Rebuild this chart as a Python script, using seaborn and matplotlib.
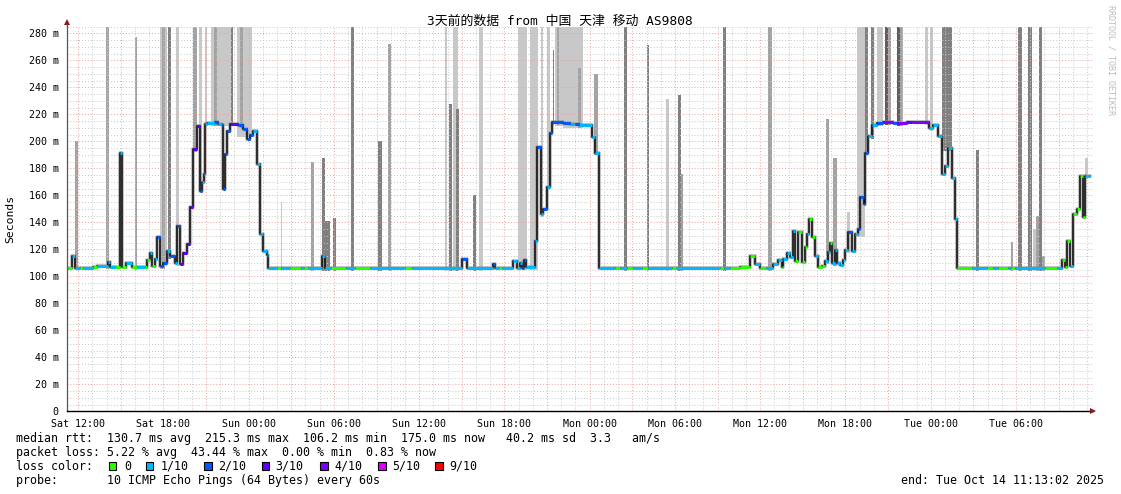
import numpy as np
import matplotlib
matplotlib.use("Agg")
import matplotlib.pyplot as plt
from matplotlib.patches import Rectangle
import seaborn as sns
import pandas as pd

# ---------------- data (hours since Sat 11:13:02) ----------------
t_h = [0.00, 0.33, 0.56, 0.91, 1.13, 1.83, 2.11, 2.89, 3.03, 3.40,
       3.73, 3.89, 4.14, 4.55, 4.90, 5.49, 5.61, 5.84, 5.96, 6.19,
       6.31, 6.54, 6.76, 7.04, 7.25, 7.60, 7.74, 7.95, 8.16, 8.44,
       8.66, 8.87, 9.15, 9.36, 9.48, 9.64, 9.71, 9.85, 10.40, 10.60,
       10.90, 11.00, 11.12, 11.24, 11.47, 12.05, 12.41, 12.65, 12.88, 13.09,
       13.39, 13.58, 13.77, 14.05, 14.17, 14.78, 15.06, 15.69, 16.45, 16.70,
       16.98, 17.92, 18.16, 18.60, 19.60, 20.30, 21.30, 23.80, 24.30, 27.78,
       28.13, 29.98, 30.12, 30.40, 30.60, 31.39, 31.67, 31.88, 32.02, 32.16,
       32.30, 32.93, 33.05, 33.34, 33.52, 33.76, 33.99, 34.13, 34.91, 35.40,
       35.75, 36.00, 36.45, 36.92, 37.16, 37.44, 38.56, 38.92, 39.41, 39.83,
       40.46, 40.89, 42.57, 42.86, 45.95, 46.24, 46.66, 47.36, 48.07, 48.42,
       48.77, 49.20, 49.68, 50.04, 50.32, 50.39, 50.65, 50.88, 51.07, 51.23,
       51.46, 51.70, 51.94, 52.06, 52.24, 52.41, 52.64, 52.87, 53.13, 53.36,
       53.58, 53.70, 53.82, 54.05, 54.22, 54.40, 54.64, 54.76, 54.98, 55.22,
       55.45, 55.69, 55.81, 56.09, 56.16, 56.39, 56.63, 56.98, 57.40, 58.10,
       58.40, 59.10, 59.50, 60.68, 60.94, 61.32, 61.58, 61.79, 62.00, 62.28,
       62.49, 62.61, 63.66, 64.72, 65.19, 65.54, 66.24, 66.45, 66.71, 68.82,
       69.64, 70.02, 70.23, 70.37, 70.58, 70.82, 71.06, 71.29, 71.48, 71.64,
       72.00]

median_ms = [106.5, 114.7, 106.5, 106.5, 106.5, 107.0, 107.5, 110.5, 106.8, 106.8,
             191.0, 106.8, 110.0, 107.0, 107.0, 107.0, 112.0, 117.0, 107.5, 113.0,
             129.0, 107.7, 110.0, 119.0, 115.0, 110.0, 137.0, 109.0, 117.0, 124.0,
             151.0, 194.0, 211.5, 163.0, 170.0, 176.0, 212.7, 213.5, 214.0, 213.0,
             212.0, 164.7, 190.7, 207.8, 213.0, 212.0, 209.0, 201.6, 205.0, 208.0,
             183.0, 131.5, 119.0, 115.5, 106.3, 106.3, 106.3, 106.3, 106.3, 106.3,
             106.3, 114.7, 106.3, 106.3, 106.3, 106.3, 106.3, 106.3, 106.3, 113.0,
             106.3, 109.0, 106.3, 106.3, 106.3, 111.0, 106.5, 110.0, 106.5, 112.0,
             107.0, 126.5, 196.0, 146.0, 150.0, 166.0, 206.5, 214.0, 213.5, 213.0,
             213.0, 212.0, 212.0, 203.0, 191.7, 106.3, 106.3, 106.3, 106.3, 106.3,
             106.3, 106.3, 106.3, 106.3, 106.3, 106.3, 106.3, 107.0, 115.4, 109.0,
             106.3, 106.3, 109.0, 112.0, 107.0, 113.0, 117.0, 114.0, 133.4, 111.0,
             132.7, 110.5, 121.6, 131.0, 142.5, 129.0, 115.0, 106.8, 108.0, 111.0,
             117.8, 124.5, 110.0, 119.5, 110.0, 108.7, 112.0, 119.5, 132.7, 119.0,
             131.0, 135.0, 158.5, 153.6, 191.7, 204.0, 212.0, 213.5, 214.0, 213.5,
             213.5, 214.5, 214.0, 210.0, 212.0, 204.0, 176.0, 182.0, 195.0, 173.0,
             142.5, 106.3, 106.3, 106.3, 106.3, 106.3, 106.3, 106.3, 106.3, 106.3,
             106.3, 112.0, 107.0, 126.5, 108.0, 146.0, 150.0, 174.5, 143.7, 174.0,
             174.0]

loss_tenths = [0, 1, 1, 0, 1, 0, 1, 1, 1, 0,
               1, 0, 1, 0, 1, 0, 0, 1, 0, 1,
               2, 2, 2, 1, 2, 1, 2, 3, 3, 3,
               3, 3, 3, 2, 1, 1, 1, 1, 2, 1,
               2, 2, 2, 2, 3, 2, 2, 2, 2, 1,
               1, 1, 1, 1, 1, 0, 1, 0, 1, 0,
               1, 1, 1, 0, 1, 0, 1, 0, 1, 2,
               1, 2, 1, 0, 1, 1, 1, 1, 2, 2,
               1, 1, 2, 1, 2, 1, 2, 2, 2, 1,
               2, 1, 1, 1, 1, 1, 0, 1, 0, 1,
               0, 1, 0, 1, 0, 1, 0, 0, 0, 1,
               0, 1, 1, 1, 0, 1, 1, 1, 1, 0,
               0, 0, 0, 1, 0, 0, 1, 0, 0, 1,
               1, 0, 1, 1, 1, 1, 1, 1, 2, 1,
               1, 2, 2, 2, 2, 1, 1, 2, 4, 2,
               4, 3, 4, 1, 1, 1, 1, 1, 1, 1,
               1, 0, 1, 0, 1, 0, 1, 0, 1, 0,
               1, 0, 0, 0, 1, 0, 0, 0, 0, 1,
               1]

# smoke spikes: start/end hour, top rtt (ms), shade
spike_t0 = [0.56, 2.72, 4.79, 6.54, 6.69, 6.90, 7.13, 7.67, 8.89, 9.31,
            9.71, 10.11, 10.34, 11.54, 11.94, 12.17, 15.04, 17.15, 17.92, 18.16,
            18.74, 19.96, 21.91, 22.57, 26.60, 26.90, 27.14, 27.37, 28.59, 28.99,
            31.76, 32.58, 33.34, 33.76, 34.18, 34.34, 34.48, 34.93, 35.94, 37.11,
            39.20, 40.79, 42.15, 43.00, 43.18, 46.19, 49.35, 53.41, 53.93, 54.89,
            55.57, 56.16, 56.58, 56.98, 57.56, 57.80, 58.39, 58.62, 60.38, 60.73,
            61.55, 63.95, 66.41, 66.95, 67.65, 67.96, 68.19, 68.43, 68.60, 71.64]
spike_t1 = [0.75, 2.96, 4.90, 6.69, 6.90, 7.04, 7.32, 7.88, 9.13, 9.48,
            9.83, 11.59, 10.53, 11.70, 13.00, 12.36, 15.15, 17.38, 18.16, 18.51,
            18.91, 20.20, 22.15, 22.80, 26.76, 27.10, 27.54, 27.56, 28.76, 29.30,
            32.35, 33.17, 33.52, 33.99, 34.29, 34.93, 34.64, 36.33, 36.15, 37.39,
            39.39, 40.96, 42.36, 43.18, 43.33, 46.38, 49.59, 53.64, 54.17, 55.07,
            56.16, 56.39, 56.79, 57.44, 57.80, 57.97, 58.62, 58.81, 60.61, 60.96,
            62.26, 64.18, 66.59, 67.19, 67.89, 68.19, 68.43, 68.60, 68.84, 71.85]
spike_top = [200, 285, 277.5, 285, 285, 285, 285, 285, 285, 285,
             285, 285, 285, 285, 285, 285, 155, 185, 188, 141,
             143, 285, 200, 272, 285, 228, 285, 224, 160.5, 285,
             285, 285, 285, 285, 268, 285, 285, 285, 254.5, 250,
             285, 271, 231.6, 234.3, 176, 285, 285, 216.8, 187.3, 148,
             285, 285, 285, 285, 285, 285, 285, 285, 285, 285,
             285, 193.7, 125.3, 285, 285, 135, 145, 285, 114.7, 188]
spike_shade = ["M", "M", "M", "L", "M", "L", "D", "L", "M", "L",
               "L", "L", "M", "D", "L", "M", "L", "M", "D", "D",
               "D", "D", "D", "M", "L", "D", "L", "D", "D", "L",
               "L", "L", "L", "L", "D", "L", "M", "L", "M", "M",
               "D", "D", "L", "D", "M", "D", "M", "M", "M", "L",
               "L", "D", "D", "L", "X", "M", "X", "M", "L", "L",
               "D", "D", "M", "D", "D", "L", "M", "D", "M", "L"]

x_tick_labels = ["Sat 12:00", "Sat 18:00", "Sun 00:00", "Sun 06:00", "Sun 12:00",
                 "Sun 18:00", "Mon 00:00", "Mon 06:00", "Mon 12:00", "Mon 18:00",
                 "Tue 00:00", "Tue 06:00"]
first_tick_h = 47 / 60 - 2 / 3600  # Sat 12:00 relative to Sat 11:13:02

loss_names = ["0", "1/10", "2/10", "3/10", "4/10", "5/10", "9/10"]
loss_colors = ["#26ff00", "#00b8ff", "#0059ff", "#5e00ff", "#7e00ff", "#dd00ff", "#ff0000"]
loss_index = {0: 0, 1: 1, 2: 2, 3: 3, 4: 4, 5: 5, 9: 6}

title = "3天前的数据 from 中国 天津 移动 AS9808"
stat_lines = [
    "median rtt:  130.7 ms avg  215.3 ms max  106.2 ms min  175.0 ms now   40.2 ms sd  3.3   am/s",
    "packet loss: 5.22 % avg  43.44 % max  0.00 % min  0.83 % now",
    "loss color:",
    "probe:       10 ICMP Echo Pings (64 Bytes) every 60s",
]
end_text = "end: Tue Oct 14 11:13:02 2025"

assert len(t_h) == len(median_ms) == len(loss_tenths), (len(t_h), len(median_ms), len(loss_tenths))
assert len(spike_t0) == len(spike_t1) == len(spike_top) == len(spike_shade)

# ---------------- figure ----------------
sns.set_theme(style="white")
plt.rcParams["font.family"] = ["DejaVu Sans Mono", "Noto Sans CJK SC"]

W, H = 1121, 494
fig = plt.figure(figsize=(W / 100, H / 100), dpi=100, facecolor="white")
PXH = 14.21  # pixels per hour
X0, Y0, YTOP = 67, 411.3, 26.6
XMAX = 72.2
ax = fig.add_axes([X0 / W, (H - Y0) / H, XMAX * PXH / W, (Y0 - YTOP) / H])
ax.set_facecolor("white")
ax.set_xlim(0, XMAX)
ax.set_ylim(0, 285)

df = pd.DataFrame({"t": t_h, "median": median_ms, "loss": loss_tenths})
t_arr = df["t"].to_numpy()
m_arr = df["median"].to_numpy()


def median_at(t):
    i = np.searchsorted(t_arr, t, side="right") - 1
    return m_arr[max(i, 0)]


# smoke spikes
shade_col = {"L": "#c8c8c8", "M": "#a3a3a3", "D": "#808080", "X": "#5e5e5e"}
rank = {"L": 0, "M": 1, "D": 2, "X": 3}
order = sorted(range(len(spike_t0)), key=lambda i: rank[spike_shade[i]])
for i in order:
    base = min(median_at(spike_t0[i]), median_at(spike_t1[i])) - 2
    ax.bar(spike_t0[i], spike_top[i] - base, width=spike_t1[i] - spike_t0[i],
           bottom=base, align="edge", color=shade_col[spike_shade[i]],
           linewidth=0, zorder=1)

# smoke around the median (underlay)
sns.lineplot(data=df, x="t", y="median", drawstyle="steps-post", color="#8c8c8c",
             linewidth=2.8, alpha=0.55, sort=False, estimator=None, ax=ax, zorder=2)
# black median line
sns.lineplot(data=df, x="t", y="median", drawstyle="steps-post", color="#111111",
             linewidth=1.2, sort=False, estimator=None, ax=ax, zorder=4)
# loss colored segments
seg_cols = [loss_colors[loss_index[v]] for v in loss_tenths[:-1]]
ax.hlines(m_arr[:-1], t_arr[:-1], t_arr[1:], colors=seg_cols, linewidth=2.2,
          zorder=5, capstyle="butt")

# ---------------- grid & ticks ----------------
major_x = first_tick_h + 3 * np.arange(0, 24)
major_x = major_x[major_x <= XMAX]
minor_x = first_tick_h + np.arange(-1, 72)
minor_x = minor_x[(minor_x > 0) & (minor_x <= XMAX)]
ax.set_xticks(major_x)
ax.set_xticklabels([x_tick_labels[k // 2] if k % 2 == 0 and k // 2 < len(x_tick_labels) else ""
                    for k in range(len(major_x))])
ax.set_xticks(minor_x, minor=True)
ax.set_yticks(np.arange(0, 281, 20))
ax.set_yticklabels(["0"] + [f"{v} m" for v in range(20, 281, 20)])
ax.set_yticks(np.arange(0, 286, 5), minor=True)

ax.set_axisbelow(False)
ax.grid(which="minor", color="#c8c8c8", linestyle=(0, (1, 2)), linewidth=0.7, zorder=3)
ax.grid(which="major", color="#eea0a0", linestyle=(0, (1, 2)), linewidth=0.7, zorder=3)
for gl in ax.get_xgridlines() + ax.get_ygridlines():
    gl.set_zorder(3)

ax.tick_params(axis="x", which="major", length=2.5, width=0.7, color="#d08080",
               labelsize=7.2, pad=3.2, labelcolor="black")
ax.tick_params(axis="x", which="minor", length=1.5, width=0.6, color="#bbbbbb")
ax.tick_params(axis="y", which="major", length=2, width=0.7, color="#d08080",
               labelsize=7.2, pad=4, labelcolor="black")
ax.tick_params(axis="y", which="minor", length=1.5, width=0.6, color="#bbbbbb")
ax.set_xlabel("")
ax.set_ylabel("")

for s in ["top", "right"]:
    ax.spines[s].set_visible(False)
ax.spines["left"].set_color("#555555")
ax.spines["left"].set_linewidth(0.9)
ax.spines["bottom"].set_color("black")
ax.spines["bottom"].set_linewidth(1.0)
ax.spines["left"].set_zorder(6)
ax.spines["bottom"].set_zorder(6)

# axis arrows
ax.plot([0, 0], [1, 1 + 3.5 / (Y0 - YTOP)], transform=ax.transAxes, color="#555555",
        lw=0.9, clip_on=False, zorder=6)
ax.plot([0], [1 + 4.5 / (Y0 - YTOP)], marker="^", markersize=4.5, color="#8b1a1a",
        transform=ax.transAxes, clip_on=False, zorder=7, markeredgewidth=0)
ax.plot([1], [0], marker=">", markersize=4.5, color="#8b1a1a",
        transform=ax.transAxes, clip_on=False, zorder=7, markeredgewidth=0)

# ---------------- texts ----------------
def fx(px):
    return px / W


def fy(py):
    return 1 - py / H


fig.text(fx(560), fy(21), title, ha="center", va="center", fontsize=9.3, color="black")
fig.text(fx(10), fy(219), "Seconds", rotation=90, ha="center", va="center",
         fontsize=8.2, color="black")
fig.text(fx(1111), fy(60), "RRDTOOL / TOBI OETIKER", rotation=270, ha="center",
         va="center", fontsize=6, color="#bdbdbd")

rows_y = [438, 452, 466, 480]
for txt, yy in zip(stat_lines, rows_y):
    fig.text(fx(16), fy(yy), txt, ha="left", va="center", fontsize=8.35, color="black")
fig.text(fx(1104), fy(480), end_text, ha="right", va="center", fontsize=8.35, color="black")

sq_x = [108.5, 145.5, 204, 261.6, 320, 378, 435]
lab_x = [124, 160.7, 218, 275.4, 334, 392, 449]
for c, name, sx, lx in zip(loss_colors, loss_names, sq_x, lab_x):
    fig.add_artist(Rectangle((fx(sx), fy(470)), 7.5 / W, 8 / H, transform=fig.transFigure,
                             facecolor=c, edgecolor="black", linewidth=0.8))
    fig.text(fx(lx), fy(466), name, ha="left", va="center", fontsize=8.35, color="black")

fig.savefig("out.png", dpi=100, facecolor="white")
